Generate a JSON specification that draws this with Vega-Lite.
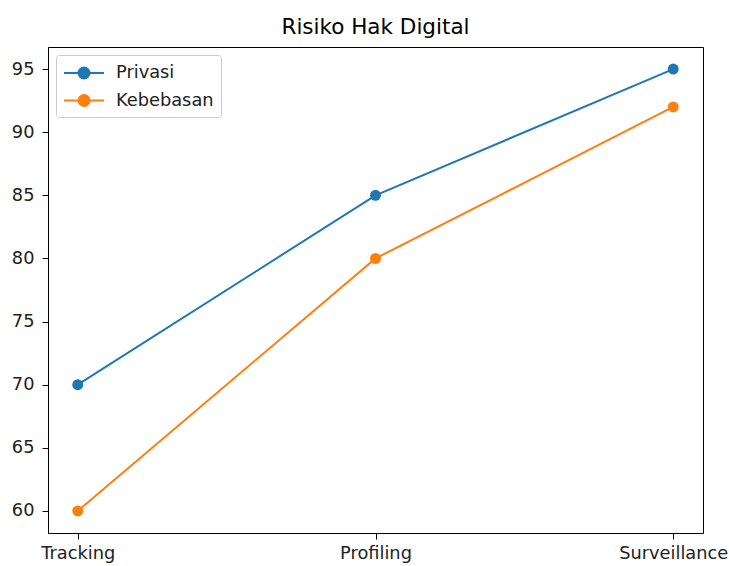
{
  "$schema": "https://vega.github.io/schema/vega-lite/v6.json",
  "width": 655,
  "height": 486,
  "autosize": "none",
  "padding": {"left": 48, "top": 47, "right": 26, "bottom": 33},
  "background": "white",
  "title": {"text": "Risiko Hak Digital", "fontSize": 21.5, "font": "DejaVu Sans", "fontWeight": "normal", "color": "black", "offset": 9},
  "config": {
    "font": "DejaVu Sans",
    "view": {"stroke": "black", "strokeWidth": 1},
    "axis": {"labelFont": "DejaVu Sans", "labelFontSize": 17.8, "labelColor": "#222", "domainColor": "black", "tickColor": "black", "tickSize": 6, "grid": false, "title": null, "labelPadding": 5},
    "legend": {
      "orient": "top-left", "offset": 8, "padding": 7, "strokeColor": "#cccccc", "fillColor": "white", "cornerRadius": 3,
      "symbolType": "M-2,0H2M0.55,0A0.55,0.55,0,1,1,-0.55,0A0.55,0.55,0,1,1,0.55,0Z",
      "symbolSize": 400, "symbolStrokeWidth": 2, "symbolOffset": 10, "labelOffset": 21, "rowPadding": 6.5,
      "labelFont": "DejaVu Sans", "labelFontSize": 17.8, "labelColor": "#222"
    }
  },
  "data": {"values": [
    {"kategori": "Tracking", "seri": "Privasi", "nilai": 70},
    {"kategori": "Profiling", "seri": "Privasi", "nilai": 85},
    {"kategori": "Surveillance", "seri": "Privasi", "nilai": 95},
    {"kategori": "Tracking", "seri": "Kebebasan", "nilai": 60},
    {"kategori": "Profiling", "seri": "Kebebasan", "nilai": 80},
    {"kategori": "Surveillance", "seri": "Kebebasan", "nilai": 92}
  ]},
  "encoding": {
    "x": {"field": "kategori", "type": "ordinal", "sort": ["Tracking", "Profiling", "Surveillance"], "scale": {"type": "point", "padding": 0.1}, "axis": {"labelAngle": 0}},
    "y": {"field": "nilai", "type": "quantitative", "scale": {"domain": [58.25, 96.75], "nice": false, "zero": false}, "axis": {"values": [60, 65, 70, 75, 80, 85, 90, 95], "labelPadding": 8}},
    "color": {"field": "seri", "type": "nominal", "sort": ["Privasi", "Kebebasan"], "scale": {"domain": ["Privasi", "Kebebasan"], "range": ["#1f77b4", "#ff7f0e"]}, "legend": {"title": null}}
  },
  "layer": [
    {"mark": {"type": "line", "strokeWidth": 2}},
    {"mark": {"type": "point", "filled": true, "size": 120, "opacity": 1}}
  ]
}
